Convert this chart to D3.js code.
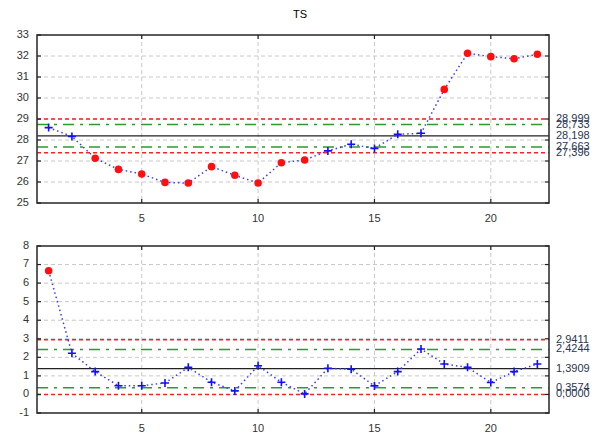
<!DOCTYPE html>
<html><head><meta charset="utf-8">
<script src="https://cdn.jsdelivr.net/npm/d3@7"></script>
<style>
body{margin:0;background:#fff;}
text{font-family:"Liberation Sans",Arial,sans-serif;}
</style></head>
<body>
<svg id="chart" width="603" height="434"></svg>
<script>
const title = "TS";
const xIndex = d3.range(1, 23);
const tsValues = [28.59,28.17,27.13,26.60,26.38,25.98,25.95,26.73,26.32,25.95,26.92,27.05,27.48,27.80,27.60,28.27,28.32,30.41,32.13,31.97,31.87,32.08];
const tsOut = [false,false,true,true,true,true,true,true,true,true,true,true,false,false,false,false,false,true,true,true,true,true];
const mrValues = [6.67,2.22,1.23,0.47,0.47,0.62,1.46,0.66,0.19,1.55,0.66,0.03,1.41,1.36,0.46,1.23,2.45,1.64,1.46,0.64,1.23,1.64];
const mrOut = [true,false,false,false,false,false,false,false,false,false,false,false,false,false,false,false,false,false,false,false,false,false];
const tsLimits = [
  {v:28.999, label:"28,999", type:"red"},
  {v:28.733, label:"28,733", type:"green"},
  {v:28.198, label:"28,198", type:"center"},
  {v:27.663, label:"27,663", type:"green"},
  {v:27.396, label:"27,396", type:"red"}
];
const mrLimits = [
  {v:2.9411, label:"2,9411", type:"red"},
  {v:2.4244, label:"2,4244", type:"green"},
  {v:1.3909, label:"1,3909", type:"center"},
  {v:0.3574, label:"0,3574", type:"green"},
  {v:0.0, label:"0,0000", type:"red"}
];
const xTicks = [5,10,15,20];
const tsTicks = [25,26,27,28,29,30,31,32,33];
const mrTicks = [-1,0,1,2,3,4,5,6,7,8];

const svg = d3.select("#chart");
const x = d3.scaleLinear().domain([0.5,22.5]).range([37,549]);

svg.append("text").attr("x",300).attr("y",15).attr("text-anchor","middle")
  .attr("dominant-baseline","middle").attr("font-size",11).text(title);

function panel(top, bottom, yDomain, yTicks, values, out, limits) {
  const y = d3.scaleLinear().domain(yDomain).range([bottom, top]);
  const g = svg.append("g");
  // grid
  g.selectAll(".hg").data(yTicks.filter(t=>t>yDomain[0]&&t<yDomain[1])).enter().append("line")
    .attr("x1",x.range()[0]).attr("x2",x.range()[1]).attr("y1",d=>y(d)).attr("y2",d=>y(d))
    .attr("stroke","#c8c8c8").attr("stroke-width",1).attr("stroke-dasharray","4,3");
  g.selectAll(".vg").data(xTicks).enter().append("line")
    .attr("x1",d=>x(d)).attr("x2",d=>x(d)).attr("y1",top).attr("y2",bottom)
    .attr("stroke","#c8c8c8").attr("stroke-width",1).attr("stroke-dasharray","4,3");
  // limit lines
  limits.forEach(l=>{
    const ln = g.append("line").attr("x1",x.range()[0]).attr("x2",x.range()[1])
      .attr("y1",y(l.v)).attr("y2",y(l.v));
    if(l.type==="red") ln.attr("stroke","#ff2020").attr("stroke-width",1.5).attr("stroke-dasharray","4,3");
    else if(l.type==="green") ln.attr("stroke","#2e9a2e").attr("stroke-width",1.5).attr("stroke-dasharray","11,6,3,6");
    else ln.attr("stroke","#222").attr("stroke-width",1.3);
    g.append("text").attr("x",556).attr("y",y(l.v)).attr("dominant-baseline","middle")
      .attr("font-size",11).attr("fill","#2a3550").text(l.label);
  });
  // data line
  const line = d3.line().x((d,i)=>x(xIndex[i])).y(d=>y(d));
  g.append("path").datum(values).attr("d",line).attr("fill","none")
    .attr("stroke","#3a3aff").attr("stroke-width",1.5).attr("stroke-dasharray","1.5,3");
  // markers
  values.forEach((v,i)=>{
    const cx = x(xIndex[i]), cy = y(v);
    if(out[i]) {
      g.append("circle").attr("cx",cx).attr("cy",cy).attr("r",3.8).attr("fill","#ff1010");
    } else {
      g.append("path").attr("d",`M${cx-4},${cy}H${cx+4}M${cx},${cy-4}V${cy+4}`)
        .attr("stroke","#1010ff").attr("stroke-width",1.6).attr("fill","none");
    }
  });
  // frame
  g.append("rect").attr("x",x.range()[0]).attr("y",top).attr("width",x.range()[1]-x.range()[0])
    .attr("height",bottom-top).attr("fill","none").attr("stroke","#333").attr("stroke-width",1.6);
  // ticks
  yTicks.forEach(t=>{
    g.append("line").attr("x1",x.range()[0]).attr("x2",x.range()[0]+4).attr("y1",y(t)).attr("y2",y(t)).attr("stroke","#222").attr("stroke-width",1.2);
    g.append("line").attr("x1",x.range()[1]-4).attr("x2",x.range()[1]).attr("y1",y(t)).attr("y2",y(t)).attr("stroke","#222").attr("stroke-width",1.2);
    g.append("text").attr("x",29).attr("y",y(t)).attr("text-anchor","end").attr("dominant-baseline","middle")
      .attr("font-size",11).attr("fill","#333").text(t);
  });
  xTicks.forEach(t=>{
    g.append("line").attr("x1",x(t)).attr("x2",x(t)).attr("y1",top).attr("y2",top+4).attr("stroke","#222").attr("stroke-width",1.2);
    g.append("line").attr("x1",x(t)).attr("x2",x(t)).attr("y1",bottom-4).attr("y2",bottom).attr("stroke","#222").attr("stroke-width",1.2);
    g.append("text").attr("x",x(t)).attr("y",bottom+16).attr("text-anchor","middle").attr("dominant-baseline","middle")
      .attr("font-size",11).attr("fill","#333").text(t);
  });
}

panel(35, 203, [25,33], tsTicks, tsValues, tsOut, tsLimits);
panel(246, 413, [-1,8], mrTicks, mrValues, mrOut, mrLimits);
</script>
</body></html>
